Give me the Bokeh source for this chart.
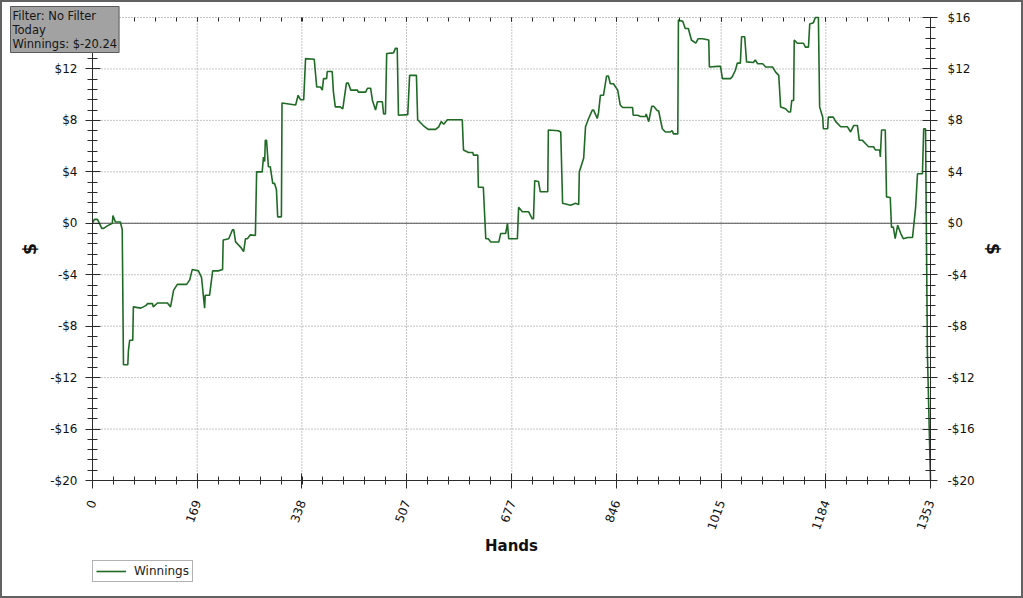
from bokeh.plotting import figure
from bokeh.models import (Range1d, LinearAxis, SingleIntervalTicker, FixedTicker, Label,
                          Legend, LegendItem, CustomJSTickFormatter, ColumnDataSource)
from bokeh.embed import file_html
from bokeh.resources import INLINE

# ---- data ----
hands = [0, 3, 8, 15, 18, 24, 32, 33, 37, 45, 48, 50, 57, 58, 60, 65, 66, 78, 86, 89, 97, 98, 105, 121,
         126, 131, 137, 152, 157, 161, 171, 176, 181, 182, 189, 194, 203, 210, 211, 220, 226, 228, 231,
         239, 244, 247, 250, 255, 263, 265, 274, 276, 278, 279, 281, 284, 287, 291, 294, 297, 299, 305,
         306, 328, 332, 336, 341, 344, 358, 362, 368, 371, 373, 378, 379, 387, 389, 392, 400, 404, 405,
         410, 413, 417, 428, 429, 441, 444, 449, 452, 457, 460, 468, 470, 473, 475, 486, 489, 492, 494,
         509, 512, 523, 525, 534, 542, 554, 559, 563, 567, 573, 597, 599, 607, 614, 615, 622, 623, 631,
         635, 639, 643, 656, 659, 667, 670, 672, 686, 688, 694, 704, 710, 712, 714, 720, 723, 735, 736,
         752, 756, 759, 772, 780, 785, 786, 793, 796, 801, 807, 809, 815, 817, 820, 825, 830, 833, 836,
         841, 848, 852, 856, 872, 873, 880, 885, 893, 894, 898, 903, 906, 912, 914, 920, 925, 933, 936,
         938, 945, 946, 953, 957, 962, 967, 974, 978, 985, 995, 996, 1009, 1014, 1017, 1030, 1033, 1038,
         1041, 1046, 1048, 1053, 1056, 1067, 1070, 1074, 1082, 1087, 1098, 1103, 1108, 1111, 1119, 1124,
         1127, 1129, 1132, 1133, 1138, 1148, 1151, 1156, 1158, 1164, 1167, 1172, 1174, 1179, 1180, 1187,
         1188, 1196, 1200, 1208, 1219, 1224, 1229, 1235, 1238, 1243, 1248, 1253, 1261, 1264, 1271, 1272,
         1274, 1280, 1282, 1288, 1290, 1293, 1296, 1300, 1305, 1309, 1316, 1324, 1329, 1332, 1340, 1342,
         1345, 1348, 1353]
winnings = [0.0, 0.3, 0.3, -0.4, -0.4, -0.2, 0.0, 0.6, 0.1, 0.1, -0.5, -11.0, -11.0, -9.9, -9.1, -9.1,
            -6.5, -6.6, -6.4, -6.25, -6.25, -6.5, -6.2, -6.2, -6.5, -5.2, -4.75, -4.75, -4.4, -3.6, -3.7,
            -4.2, -6.6, -5.6, -5.6, -3.7, -3.7, -3.6, -1.3, -1.2, -0.5, -0.5, -1.45, -1.85, -2.2, -1.2,
            -1.2, -0.9, -0.95, 4.0, 4.0, 5.15, 4.8, 6.45, 6.45, 4.4, 4.4, 3.1, 3.1, 2.6, 0.5, 0.5, 9.35,
            9.2, 9.95, 9.6, 9.6, 12.8, 12.75, 10.6, 10.6, 10.35, 11.25, 11.25, 11.8, 11.8, 10.2, 9.05,
            9.05, 8.9, 9.2, 10.9, 10.9, 10.35, 10.35, 10.2, 10.2, 10.5, 10.5, 9.55, 8.8, 9.45, 9.45, 8.5,
            8.5, 13.2, 13.25, 13.6, 13.6, 8.4, 8.45, 11.5, 11.5, 8.05, 7.6, 7.3, 7.3, 7.5, 7.9, 7.7, 8.05,
            8.05, 5.7, 5.5, 5.5, 5.3, 5.3, 2.8, 2.8, -1.2, -1.2, -1.45, -1.45, -0.8, -0.8, 0.0, -1.2,
            -1.2, 1.25, 0.9, 0.9, 0.35, 0.35, 3.3, 3.25, 2.45, 2.45, 7.25, 7.2, 7.1, 1.55, 1.4, 1.55,
            1.45, 4.0, 5.05, 7.5, 8.15, 8.8, 8.8, 8.15, 8.6, 9.95, 9.95, 11.45, 11.45, 10.85, 10.85,
            10.35, 9.2, 9.0, 9.0, 8.4, 8.4, 8.3, 8.3, 8.5, 7.9, 9.1, 9.1, 8.75, 8.75, 7.35, 7.1, 7.1,
            7.2, 6.95, 6.95, 15.8, 15.7, 15.15, 15.15, 14.25, 14.0, 14.35, 14.35, 14.25, 12.15, 12.2,
            12.2, 11.25, 11.25, 11.4, 11.9, 12.45, 12.45, 14.5, 14.5, 12.55, 12.5, 12.7, 12.4, 12.4,
            12.15, 12.15, 11.75, 11.5, 9.05, 8.9, 8.65, 8.65, 9.55, 9.55, 14.25, 14.0, 14.0, 13.7, 13.7,
            15.5, 15.6, 16.0, 16.0, 9.05, 8.25, 7.35, 7.35, 8.25, 8.25, 7.9, 7.5, 7.5, 7.1, 7.6, 7.6,
            6.45, 6.45, 6.2, 5.95, 5.95, 5.7, 5.7, 5.15, 7.25, 7.25, 2.05, 2.0, -0.3, -0.3, -1.2, -0.15,
            -0.8, -1.2, -1.1, -1.1, 1.25, 3.85, 3.85, 7.35, 7.35, -10.1, -20.24]
x_ticks = [0, 169, 338, 507, 677, 846, 1015, 1184, 1353]
y_min, y_max, y_step = -20, 16, 4
info_lines = ["Filter: No Filter", "Today", "Winnings: $-20.24"]
series_name = "Winnings"

FONT = "DejaVu Sans"
GREEN = "#1f6a25"
AXIS_COL = "#2b2b2b"
GRID_COL = "#8c8c8c"

# layout (pixels): the frame covers the whole canvas; the plot area sits inside
# it with these margins, and all axes are fixed at the plot-area edges.
W, H = 1023, 598
PX_LEFT, PX_TOP, PX_RIGHT, PX_BOTTOM = 92, 17, 93, 118
plot_w = W - PX_RIGHT - PX_LEFT
plot_h = H - PX_BOTTOM - PX_TOP
x_min = x_ticks[0]
x_max = x_ticks[-1]
hx = (x_max - x_min) / plot_w          # hands per pixel
hy = (y_max - y_min) / plot_h          # dollars per pixel

p = figure(width=W, height=H, output_backend="svg", toolbar_location=None,
           x_range=Range1d(x_min - PX_LEFT * hx, x_max + PX_RIGHT * hx),
           y_range=Range1d(y_min - PX_BOTTOM * hy, y_max + PX_TOP * hy),
           min_border=0, min_border_left=0, min_border_right=0, min_border_top=0,
           min_border_bottom=0,
           background_fill_color="white", border_fill_color="white")
p.outline_line_color = "#626262"
p.outline_line_width = 3
p.grid.visible = False

y_ticks = list(range(y_min, y_max + 1, y_step))

# dotted grid, drawn from the tick lists
p.segment(x0=x_ticks, y0=[y_min] * len(x_ticks), x1=x_ticks, y1=[y_max] * len(x_ticks),
          line_color=GRID_COL, line_dash="1 2", line_width=1)
p.segment(x0=[x_min] * len(y_ticks), y0=y_ticks, x1=[x_max] * len(y_ticks), y1=y_ticks,
          line_color=GRID_COL, line_dash="1 2", line_width=1)
# zero line
p.segment(x0=[x_min], y0=[0], x1=[x_max], y1=[0], line_color="#555555", line_width=1)

# clip the final plunge at the bottom of the plot area
w_clipped = [max(v, y_min) for v in winnings]
src = ColumnDataSource(dict(h=hands, w=w_clipped))
r = p.line("h", "w", source=src, line_color=GREEN, line_width=1.6)

x_ticker = FixedTicker(ticks=x_ticks, minor_ticks=[x_min + i * (x_max - x_min) / 40 for i in range(41)])
y_ticker = SingleIntervalTicker(interval=y_step, num_minor_ticks=5)
y_fmt = CustomJSTickFormatter(code="return (tick < 0 ? '-$' : '$') + Math.abs(tick);")

def style_axis(ax):
    ax.axis_line_color = AXIS_COL
    ax.major_tick_line_color = AXIS_COL
    ax.minor_tick_line_color = AXIS_COL
    ax.major_label_text_font = FONT
    ax.major_label_text_font_size = "12px"
    ax.major_label_text_color = "#111111"
    ax.axis_label_text_font = FONT
    ax.axis_label_text_font_style = "bold"
    ax.axis_label_text_color = "#111111"

# bottom axis, fixed at y = y_min
xa = p.xaxis[0]
xa.fixed_location = y_min
xa.ticker = x_ticker
xa.bounds = (x_min, x_max)
style_axis(xa)
xa.major_tick_in = 7
xa.major_tick_out = 8
xa.minor_tick_in = 4
xa.minor_tick_out = 4
xa.major_label_orientation = 1.22
xa.major_label_standoff = 12
xa.axis_label = "Hands"
xa.axis_label_text_font_size = "15px"
xa.axis_label_standoff = 2

# left axis, fixed at x = x_min
ya = p.yaxis[0]
ya.fixed_location = x_min
ya.ticker = y_ticker
ya.formatter = y_fmt
ya.bounds = (y_min, y_max)
style_axis(ya)
ya.major_tick_in = 8
ya.major_tick_out = 7
ya.minor_tick_in = 5
ya.minor_tick_out = 5
ya.major_label_standoff = 8
ya.axis_label = "$"
ya.axis_label_text_font_size = "17px"
ya.axis_label_standoff = 7

# right axis, fixed at x = x_max
yr = LinearAxis(ticker=y_ticker, formatter=y_fmt, axis_label="$", bounds=(y_min, y_max),
                fixed_location=x_max)
style_axis(yr)
yr.major_tick_in = 8
yr.major_tick_out = 7
yr.minor_tick_in = 5
yr.minor_tick_out = 5
yr.major_label_standoff = 10
yr.axis_label_text_font_size = "17px"
yr.axis_label_standoff = 5
p.add_layout(yr, "right")

# top edge: ticks only, fixed at y = y_max
xt = LinearAxis(ticker=x_ticker, fixed_location=y_max, bounds=(x_min, x_max))
xt.axis_line_color = None
xt.major_tick_line_color = AXIS_COL
xt.minor_tick_line_color = AXIS_COL
xt.major_tick_in = 4
xt.major_tick_out = 0
xt.minor_tick_in = 4
xt.minor_tick_out = 0
xt.major_label_text_font_size = "1px"
xt.major_label_text_alpha = 0
xt.major_label_standoff = 0
p.add_layout(xt, "above")

# legend under the axis title
leg = Legend(items=[LegendItem(label=series_name, renderers=[r])], location=(PX_LEFT, 16),
             label_text_font=FONT, label_text_font_size="12px", label_text_color="#222222",
             glyph_width=30, glyph_height=12, label_height=12, label_standoff=8,
             padding=3, margin=0, spacing=0, border_line_color="#666666",
             background_fill_color="white", background_fill_alpha=1)
p.add_layout(leg, "center")

# filter info box (top-left, overlapping the plot)
info = Label(x=10, y=H - 6, x_units="screen", y_units="screen",
             text="\n".join(info_lines),
             text_font=FONT, text_font_size="11.5px", text_color="#151515",
             text_baseline="top", text_align="left", text_line_height=1.0,
             background_fill_color="#a2a2a2", border_line_color="#5a5a5a", padding=2)
p.add_layout(info)

open("out.html", "w").write(file_html(p, INLINE))
